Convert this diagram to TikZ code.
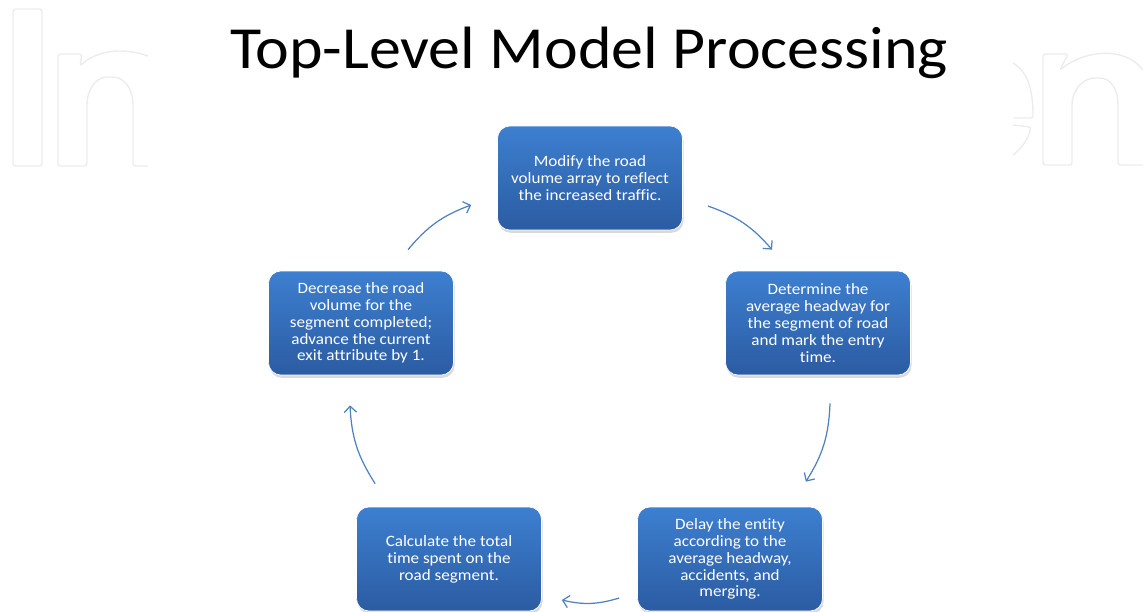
\documentclass[tikz,border=0pt]{standalone}
\usepackage{fontspec}
\setmainfont{Carlito}
\newfontfamily\boxfont[FakeStretch=1.08,Ligatures=NoCommon]{Carlito}
\newfontfamily\titlefont[FakeStretch=1.07]{Carlito}
\usetikzlibrary{arrows.meta,calc,shadows}
\definecolor{boxtop}{HTML}{3D7FD0}
\definecolor{boxbot}{HTML}{2B5CA2}
\definecolor{arrowblue}{HTML}{4F81BD}
\definecolor{wmgray}{HTML}{ECECEC}
\begin{document}
\begin{tikzpicture}[x=0.02cm, y=-0.02cm,
  stepbox/.style={rounded corners=7pt, top color=boxtop, bottom color=boxbot,
    draw=white, line width=0.4pt, minimum width=3.7cm, minimum height=2.08cm,
    align=center, text=white, font=\boxfont\fontsize{9}{9.6}\selectfont,
    drop shadow={shadow xshift=0.6pt, shadow yshift=-1.6pt, opacity=0.3}},
  cyc/.style={draw=arrowblue, line width=0.7pt,
    -{Straight Barb[length=3.5pt,width=7pt]}},
  wm/.style={draw=wmgray, line width=0.8pt, rounded corners=1.5pt}]

\useasboundingbox (0,0) rectangle (1143,612);

% faint watermark letters
\begin{scope}[wm]
  \draw (13,9) rectangle (42,166);
  \draw (148,56) .. controls (120,46) and (95,52) .. (80,66)
    -- (82,54) -- (58,54) -- (58,166) -- (87,166) -- (87,108)
    .. controls (87,88) and (97,77) .. (110,77)
    .. controls (124,77) and (133,88) .. (133,108) -- (133,166) -- (148,166);
  \draw (1013,63) .. controls (1028,72) and (1033,90) .. (1033,118) -- (1013,118);
  \draw (1013,125) -- (1031,127) .. controls (1028,140) and (1020,150) .. (1013,155);
  \draw (1143,70) .. controls (1125,46) and (1085,50) .. (1060,70)
    -- (1068,54) -- (1043,54) -- (1043,165) -- (1072,165) -- (1072,108)
    .. controls (1072,88) and (1085,78) .. (1097,78)
    .. controls (1110,78) and (1118,88) .. (1118,108) -- (1118,165) -- (1143,165);
\end{scope}

\node[anchor=base, font=\titlefont\fontsize{34}{40}\selectfont] (title) at (589,68)
  {Top-Level Model Processing};

\node[stepbox] (modify) at (590,178)
  {Modify the road\\volume array to reflect\\the increased traffic.};
\node[stepbox] (headway) at (818,323)
  {Determine the\\average headway for\\the segment of road\\and mark the entry\\time.};
\node[stepbox] (delay) at (730,559)
  {Delay the entity\\according to the\\average headway,\\accidents, and\\merging.};
\node[stepbox] (total) at (449,559)
  {Calculate the total\\time spent on the\\road segment.};
\node[stepbox] (decrease) at (361,323)
  {Decrease the road\\volume for the\\segment completed;\\advance the current\\exit attribute by 1.};

\draw[cyc] ($(modify.east)+(25,28)$) to[bend left=15] ($(headway.north)+(-46,-21)$);
\draw[cyc] ($(headway.south)+(12,28)$) to[bend left=15] ($(delay.north east)+(-17,-25)$);
\draw[cyc] ($(delay.west)+(-18,39)$) to[bend left=15] ($(total.east)+(20,41)$);
\draw[cyc] ($(total.north west)+(19,-23)$) to[bend left=15] ($(decrease.south)+(-11,30)$);
\draw[cyc] ($(decrease.north)+(47,-21)$) to[bend left=15] ($(modify.west)+(-26,27)$);
\end{tikzpicture}
\end{document}
